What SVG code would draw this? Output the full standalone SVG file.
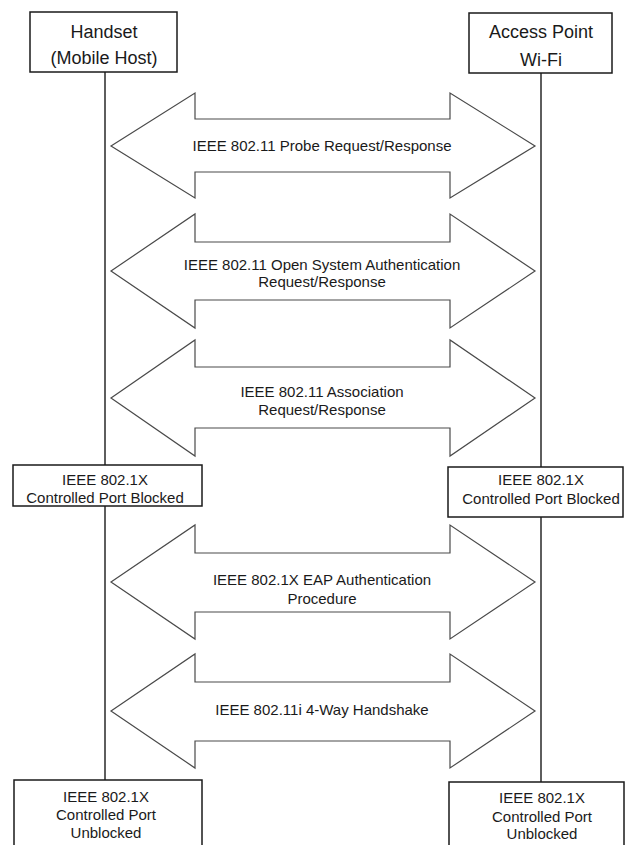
<svg xmlns="http://www.w3.org/2000/svg" width="625" height="845" viewBox="0 0 625 845">
  <style>
    .box { fill: #ffffff; stroke: #1a1a1a; stroke-width: 1.5; }
    .life { fill: none; stroke: #2a2a2a; stroke-width: 1.5; }
    .arrow { fill: #ffffff; stroke: #4a4a4a; stroke-width: 1.2; stroke-linejoin: miter; }
    text { font-family: "Liberation Sans", Arial, sans-serif; fill: #1a1a1a; text-anchor: middle; }
    .hdr { font-size: 18px; }
    .lbl { font-size: 15px; }
  </style>
  <rect width="625" height="845" fill="#ffffff"/>

  <!-- lifelines -->
  <g id="lifelines">
    <path class="life" d="M105,72 V465 M105,506 V780"/>
    <path class="life" d="M541,73 V467 M541,517 V782"/>
  </g>

  <!-- participants -->
  <g id="handset">
    <rect class="box" x="30" y="12" width="147" height="60"/>
    <text class="hdr" x="104" y="38">Handset</text>
    <text class="hdr" x="104" y="64">(Mobile Host)</text>
  </g>
  <g id="access-point">
    <rect class="box" x="469" y="13" width="143" height="60"/>
    <text class="hdr" x="541" y="38">Access Point</text>
    <text class="hdr" x="541" y="66">Wi-Fi</text>
  </g>

  <!-- exchange arrows -->
  <g id="connectors">
    <g id="probe">
      <path class="arrow" d="M111,146 L195,93 L195,119 L450,119 L450,93 L535,146 L450,198 L450,172 L195,172 L195,198 Z"/>
      <text class="lbl" x="322" y="151">IEEE 802.11  Probe Request/Response</text>
    </g>
    <g id="open-auth">
      <path class="arrow" d="M111,271 L195,214 L195,242 L450,242 L450,214 L535,271 L450,328 L450,300 L195,300 L195,328 Z"/>
      <text class="lbl" x="322" y="270">IEEE 802.11  Open System Authentication</text>
      <text class="lbl" x="322" y="287">Request/Response</text>
    </g>
    <g id="association">
      <path class="arrow" d="M111,398 L195,340 L195,367 L450,367 L450,340 L535,398 L450,456 L450,428 L195,428 L195,456 Z"/>
      <text class="lbl" x="322" y="397">IEEE 802.11  Association</text>
      <text class="lbl" x="322" y="415">Request/Response</text>
    </g>
    <g id="eap">
      <path class="arrow" d="M111,582 L195,525 L195,553 L450,553 L450,525 L535,582 L450,639 L450,612 L195,612 L195,639 Z"/>
      <text class="lbl" x="322" y="585">IEEE 802.1X EAP Authentication</text>
      <text class="lbl" x="322" y="604">Procedure</text>
    </g>
    <g id="handshake">
      <path class="arrow" d="M111,711 L195,654 L195,682 L450,682 L450,654 L535,711 L450,768 L450,741 L195,741 L195,768 Z"/>
      <text class="lbl" x="322" y="715">IEEE 802.11i 4-Way Handshake</text>
    </g>
  </g>

  <!-- port states -->
  <g id="handset-blocked">
    <rect class="box" x="13" y="465" width="189" height="41"/>
    <text class="lbl" x="105" y="485">IEEE 802.1X</text>
    <text class="lbl" x="105" y="503">Controlled Port Blocked</text>
  </g>
  <g id="ap-blocked">
    <rect class="box" x="448" y="467" width="175" height="50"/>
    <text class="lbl" x="541" y="485">IEEE 802.1X</text>
    <text class="lbl" x="541" y="504">Controlled Port Blocked</text>
  </g>
  <g id="handset-unblocked">
    <rect class="box" x="14" y="780" width="188" height="80"/>
    <text class="lbl" x="106" y="802">IEEE 802.1X</text>
    <text class="lbl" x="106" y="820">Controlled Port</text>
    <text class="lbl" x="106" y="838">Unblocked</text>
  </g>
  <g id="ap-unblocked">
    <rect class="box" x="449" y="782" width="175" height="80"/>
    <text class="lbl" x="542" y="803">IEEE 802.1X</text>
    <text class="lbl" x="542" y="822">Controlled Port</text>
    <text class="lbl" x="542" y="839">Unblocked</text>
  </g>
</svg>
